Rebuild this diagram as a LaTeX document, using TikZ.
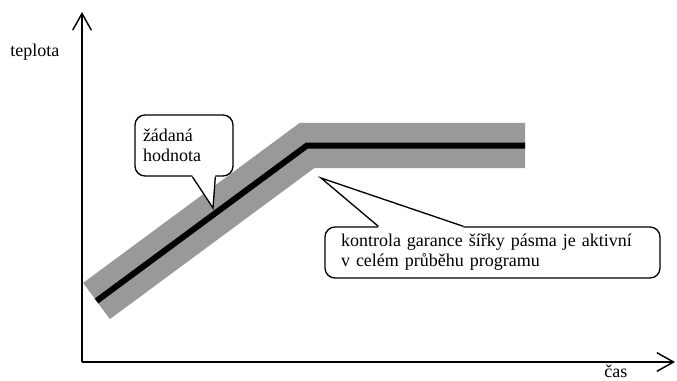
\documentclass[tikz,border=0pt]{standalone}
\usepackage{fontspec}
\setmainfont{Liberation Serif}
\usetikzlibrary{arrows.meta,calc}
\definecolor{bandgray}{RGB}{153,153,153}
\tikzset{
  axisline/.style={line width=1.1pt,-{Straight Barb[length=12.5pt,width=14pt,line width=1.1pt]}},
  lbl/.style={font=\fontsize{13.5}{15}\selectfont, inner sep=0pt},
  callbox/.style={draw, line width=1pt, fill=white, rounded corners=7.5pt,
    font=\fontsize{13.5}{15}\selectfont, align=left},
  callline/.style={line width=1pt, line join=miter},
  bandstyle/.style={bandgray, line width=33.75pt, line join=miter, line cap=butt},
  linestyle/.style={black, line width=4.5pt, line join=miter, line cap=butt}
}
\begin{document}
\begin{tikzpicture}[x=0.75pt,y=-0.75pt]
\useasboundingbox (0,0) rectangle (677,381);
% axes
\coordinate (O) at (82,362);
\coordinate (ytop) at (82,12);
\coordinate (xend) at (675,362);
\draw[axisline] (O) -- (ytop);
\draw[axisline] (O) -- (xend);
\node[lbl, anchor=base west] (ylab) at (10,57) {teplota};
\node[lbl, anchor=base west] (xlab) at (604,377.5) {čas};
% band and set value line
\coordinate (s) at (96.5,301);
\coordinate (c) at (307,145.5);
\coordinate (e) at (525,145.5);
\draw[bandstyle] (s) -- (c) -- (e);
\draw[linestyle] (s) -- (c) -- (e);
% callout 1
\node[callbox, text width=61.5pt, inner xsep=6pt, minimum height=45.75pt] (zh) at (184,145.5) {žádaná\\hodnota};
\coordinate (t1) at (213,208);
\fill[white] ($(zh.south west)+(58,0)$) -- (t1) -- ($(zh.south west)+(81,0)$) -- ($(zh.south west)+(81,-2.5)$) -- ($(zh.south west)+(58,-2.5)$) -- cycle;
\draw[callline] ($(zh.south west)+(58,0)$) -- (t1) -- ($(zh.south west)+(81,0)$);
% callout 2
\node[callbox, text width=227.25pt, inner xsep=12pt, minimum height=38.25pt] (kg) at (492.5,252.5)
  {\makebox[227.25pt][s]{kontrola garance šířky pásma je aktivní}\\v celém průběhu programu};
\coordinate (t2) at (321,178);
\fill[white] ($(kg.north west)+(54,0)$) -- (t2) -- ($(kg.north west)+(139,0)$) -- ($(kg.north west)+(139,2.5)$) -- ($(kg.north west)+(54,2.5)$) -- cycle;
\draw[callline] ($(kg.north west)+(54,0)$) -- (t2) -- ($(kg.north west)+(139,0)$);
\end{tikzpicture}
\end{document}
